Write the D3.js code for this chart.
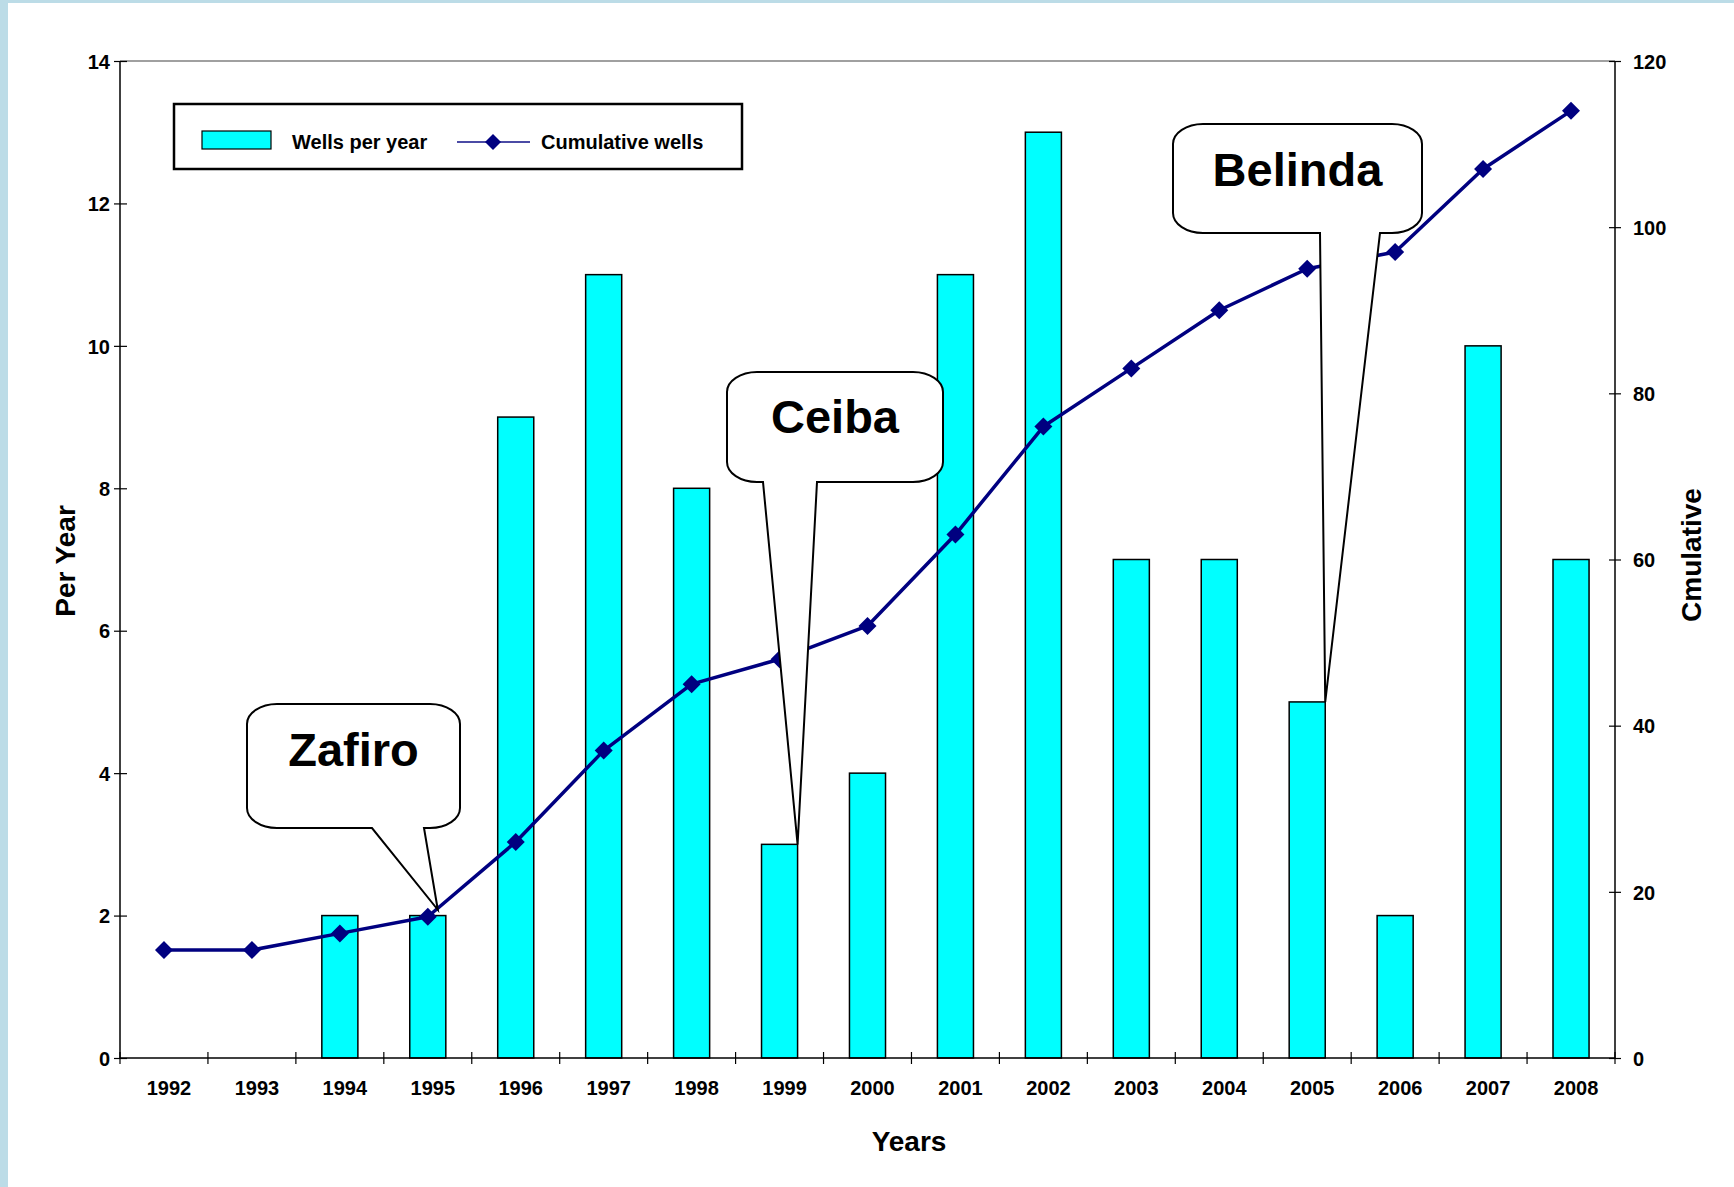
<!DOCTYPE html>
<html>
<head>
<meta charset="utf-8">
<script src="https://cdn.jsdelivr.net/npm/d3@7/dist/d3.min.js"></script>
<style>
  html, body { margin: 0; padding: 0; background: #bcdce7; }
  svg { display: block; }
  text { font-family: "Liberation Sans", Arial, sans-serif; font-weight: bold; fill: #000; }
</style>
</head>
<body>
<svg id="chart" width="1734" height="1187"></svg>
<script>
const years = ["1992","1993","1994","1995","1996","1997","1998","1999","2000","2001","2002","2003","2004","2005","2006","2007","2008"];
const wellsPerYear = [0, 0, 2, 2, 9, 11, 8, 3, 4, 11, 13, 7, 7, 5, 2, 10, 7];
const cumulativeWells = [13, 13, 15, 17, 26, 37, 45, 48, 52, 63, 76, 83, 90, 95, 97, 107, 114];
const leftTicks = [0, 2, 4, 6, 8, 10, 12, 14];
const rightTicks = [0, 20, 40, 60, 80, 100, 120];
const seriesNames = ["Wells per year", "Cumulative wells"];
const axisTitles = { left: "Per Year", right: "Cmulative", bottom: "Years" };
const callouts = [
  { label: "Zafiro", year: "1995", series: "cum" },
  { label: "Ceiba", year: "1999", series: "bar" },
  { label: "Belinda", year: "2005", series: "bar" }
];

const W = 1734, H = 1187;
const m = { left: 120, right: 1615, top: 61, bottom: 1058 };
const svg = d3.select("#chart");
const FONT = "Liberation Sans, Arial, sans-serif";

// background panel
svg.append("rect").attr("x", 0).attr("y", 0).attr("width", W).attr("height", H).attr("fill", "#bcdce7");
svg.append("rect").attr("x", 8).attr("y", 3).attr("width", W - 8).attr("height", H - 3).attr("fill", "#ffffff");

const x = d3.scaleBand().domain(years).range([m.left, m.right]).padding(0);
const yL = d3.scaleLinear().domain([0, 14]).range([m.bottom, m.top]);
const yR = d3.scaleLinear().domain([0, 120]).range([m.bottom, m.top]);
const bw = x.bandwidth();
const barW = bw * 0.41;

// top border of plot
svg.append("line").attr("x1", m.left).attr("x2", m.right).attr("y1", m.top).attr("y2", m.top)
  .attr("stroke", "#808080").attr("stroke-width", 1.5);

// bars
svg.append("g").selectAll("rect").data(years.map((yr, i) => ({ yr, v: wellsPerYear[i] })).filter(d => d.v > 0))
  .join("rect")
  .attr("x", d => x(d.yr) + bw / 2 - barW / 2)
  .attr("width", barW)
  .attr("y", d => yL(d.v))
  .attr("height", d => yL(0) - yL(d.v))
  .attr("fill", "#00ffff").attr("stroke", "#000").attr("stroke-width", 1.5);

// line
const pts = years.map((yr, i) => [x(yr) + bw / 2, yR(cumulativeWells[i])]);
svg.append("path").attr("d", d3.line()(pts)).attr("fill", "none")
  .attr("stroke", "#000080").attr("stroke-width", 3.5).attr("stroke-linejoin", "round");
const dsz = 9;
svg.append("g").selectAll("path").data(pts).join("path")
  .attr("d", d => `M${d[0]},${d[1]-dsz}L${d[0]+dsz},${d[1]}L${d[0]},${d[1]+dsz}L${d[0]-dsz},${d[1]}Z`)
  .attr("fill", "#000080");

// left axis
const gL = svg.append("g").attr("transform", `translate(${m.left},0)`)
  .call(d3.axisLeft(yL).tickValues(leftTicks).tickSize(6).tickPadding(4));
gL.select(".domain").attr("stroke", "#000").attr("stroke-width", 1.5).attr("d", `M0,${m.top}V${m.bottom}`);
gL.selectAll(".tick line").attr("x1", -6).attr("x2", 7).attr("stroke", "#000").attr("stroke-width", 1.2);
gL.selectAll(".tick text").attr("font-size", 20).attr("font-family", FONT)
  .attr("font-weight", "bold").attr("fill", "#000").attr("dy", "0.36em");

// right axis
const gR = svg.append("g").attr("transform", `translate(${m.right},0)`)
  .call(d3.axisRight(yR).tickValues(rightTicks).tickSize(6).tickPadding(12));
gR.select(".domain").attr("stroke", "#000").attr("stroke-width", 1.5).attr("d", `M0,${m.top}V${m.bottom}`);
gR.selectAll(".tick line").attr("x1", -6).attr("x2", 6).attr("stroke", "#000").attr("stroke-width", 1.2);
gR.selectAll(".tick text").attr("font-size", 20).attr("font-family", FONT)
  .attr("font-weight", "bold").attr("fill", "#000").attr("dy", "0.36em");

// bottom axis
const gB = svg.append("g").attr("transform", `translate(0,${m.bottom})`)
  .call(d3.axisBottom(x).tickSize(0).tickPadding(0));
gB.select(".domain").attr("stroke", "#000").attr("stroke-width", 1.5).attr("d", `M${m.left},0H${m.right}`);
gB.selectAll(".tick text").attr("font-size", 20).attr("font-family", FONT)
  .attr("font-weight", "bold").attr("fill", "#000").attr("dx", 5).attr("y", 37).attr("dy", 0);
const bounds = years.map(yr => x(yr)).concat([m.right]);
gB.append("g").selectAll("line").data(bounds).join("line")
  .attr("x1", d => d).attr("x2", d => d).attr("y1", -6).attr("y2", 6)
  .attr("stroke", "#000").attr("stroke-width", 1.2);

// axis titles
svg.append("text").attr("transform", `translate(75,561) rotate(-90)`)
  .attr("text-anchor", "middle").attr("font-size", 28).text(axisTitles.left);
svg.append("text").attr("transform", `translate(1701,555) rotate(-90)`)
  .attr("text-anchor", "middle").attr("font-size", 28).text(axisTitles.right);
svg.append("text").attr("x", 909).attr("y", 1151)
  .attr("text-anchor", "middle").attr("font-size", 28).text(axisTitles.bottom);

// legend
const lg = svg.append("g");
lg.append("rect").attr("x", 174).attr("y", 104).attr("width", 568).attr("height", 65)
  .attr("fill", "#fff").attr("stroke", "#000").attr("stroke-width", 2.5);
lg.append("rect").attr("x", 202).attr("y", 131).attr("width", 69).attr("height", 18)
  .attr("fill", "#00ffff").attr("stroke", "#000").attr("stroke-width", 1.2);
lg.append("text").attr("x", 292).attr("y", 149).attr("font-size", 20).text(seriesNames[0]);
lg.append("line").attr("x1", 457).attr("x2", 530).attr("y1", 142).attr("y2", 142)
  .attr("stroke", "#000080").attr("stroke-width", 2).attr("opacity", 0.7);
const ld = 8;
lg.append("path").attr("d", `M493,${142-ld}L${493+ld},142L493,${142+ld}L${493-ld},142Z`).attr("fill", "#000080");
lg.append("text").attr("x", 541).attr("y", 149).attr("font-size", 20).text(seriesNames[1]);

// callouts (box geometry; tip anchored to data)
const calloutGeom = {
  Zafiro:  { dx: 10, dy: -7, box: [247, 704, 460, 828], base: [372, 424], ty: 766 },
  Ceiba:   { dx: 0, dy: 0, box: [727, 372, 943, 482], base: [763, 817], ty: 433 },
  Belinda: { dx: 0, dy: 0, box: [1173, 124, 1422, 233], base: [1320, 1380], ty: 186 }
};
callouts.forEach(c => {
  const i = years.indexOf(c.year);
  const g = calloutGeom[c.label];
  let tx, ty;
  if (c.series === "cum") { tx = x(c.year) + bw / 2 + g.dx; ty = yR(cumulativeWells[i]) + g.dy; }
  else { tx = x(c.year) + bw / 2 + barW / 2 + g.dx; ty = yL(wellsPerYear[i]) + g.dy; }
  const [x0, y0, x1, y1] = g.box;
  const rx = 30, ry = 20;
  const d = `M${x0 + rx},${y0}H${x1 - rx}A${rx},${ry} 0 0 1 ${x1},${y0 + ry}V${y1 - ry}A${rx},${ry} 0 0 1 ${x1 - rx},${y1}` +
    `H${g.base[1]}L${tx},${ty}L${g.base[0]},${y1}H${x0 + rx}A${rx},${ry} 0 0 1 ${x0},${y1 - ry}V${y0 + ry}A${rx},${ry} 0 0 1 ${x0 + rx},${y0}Z`;
  svg.append("path").attr("d", d).attr("fill", "#fff").attr("stroke", "#000").attr("stroke-width", 2);
  svg.append("text").attr("x", (x0 + x1) / 2).attr("y", g.ty).attr("text-anchor", "middle")
    .attr("font-size", 47).text(c.label);
});
</script>
</body>
</html>
